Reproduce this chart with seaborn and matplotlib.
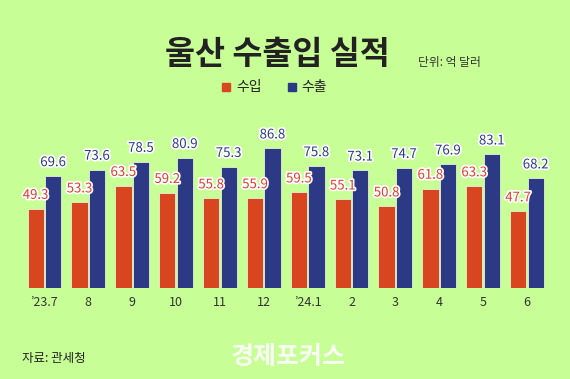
import pandas as pd
import seaborn as sns
import matplotlib.pyplot as plt
import matplotlib.patheffects as pe
from matplotlib.patches import Rectangle

# Data
months = ["’23.7", "8", "9", "10", "11", "12", "’24.1", "2", "3", "4", "5", "6"]
imports = [49.3, 53.3, 63.5, 59.2, 55.8, 55.9, 59.5, 55.1, 50.8, 61.8, 63.3, 47.7]
exports = [69.6, 73.6, 78.5, 80.9, 75.3, 86.8, 75.8, 73.1, 74.7, 76.9, 83.1, 68.2]
series = ["수입", "수출"]

bg = "#C8FE96"
red = "#D8461F"
blue = "#2C3A86"

sns.set_style("white")
plt.rcParams['font.family'] = ['Noto Sans CJK KR', 'DejaVu Sans']

df = pd.DataFrame({"month": months * 2,
                   "value": imports + exports,
                   "kind": [series[0]] * len(months) + [series[1]] * len(months)})

fig = plt.figure(figsize=(5.7, 3.79), dpi=100, facecolor=bg)
ax = fig.add_axes([0.0395, 0.240, 0.9235, 0.4248])
ax.set_facecolor(bg)

sns.barplot(data=df, x="month", y="value", hue="kind", order=months,
            hue_order=series, palette=[red, blue], saturation=1,
            width=0.8, gap=0.07,
            edgecolor="#E6EFD8", linewidth=0.6, legend=False, ax=ax)

ax.set_ylim(0, 100)
ax.set_xlim(-0.5, len(months) - 0.5)
ax.set_xlabel("")
ax.set_ylabel("")
ax.set_yticks([])
ax.tick_params(axis="x", length=0, labelsize=9, labelcolor="#333333", pad=6)
sns.despine(ax=ax, left=True, bottom=True)

# value labels
for cont, col in zip(ax.containers, ["#E23B2B", blue]):
    for bar in cont:
        h = bar.get_height()
        ax.annotate(f"{h:.1f}", (bar.get_x() + bar.get_width() / 2, h),
                    xytext=(0, 9.6), textcoords="offset points",
                    ha="center", va="center", fontsize=9.5, color=col,
                    path_effects=[pe.withStroke(linewidth=2.5, foreground="white")])

# title and unit
fig.text(0.487, 0.855, "울산 수출입 실적", ha="center", va="center",
         fontsize=23.5, fontweight="heavy", color="#222222")
fig.text(0.733, 0.836, "단위: 억 달러", ha="left", va="center",
         fontsize=8.5, color="#333333")

# legend
for x0, c, lab in [(0.390, red, series[0]), (0.505, blue, series[1])]:
    fig.patches.append(Rectangle((x0, 0.760), 0.0135, 0.0205, color=c,
                                 transform=fig.transFigure, figure=fig))
    fig.text(x0 + 0.024, 0.770, lab, ha="left", va="center",
             fontsize=10, color="#222222")

# source and watermark
fig.text(0.038, 0.053, "자료: 관세청", ha="left", va="center",
         fontsize=9, color="#222222")
fig.text(0.505, 0.058, "경제포커스", ha="center", va="center",
         fontsize=18, fontweight="bold", color="white", alpha=0.9)

fig.savefig("out.png", dpi=100, facecolor=bg)
